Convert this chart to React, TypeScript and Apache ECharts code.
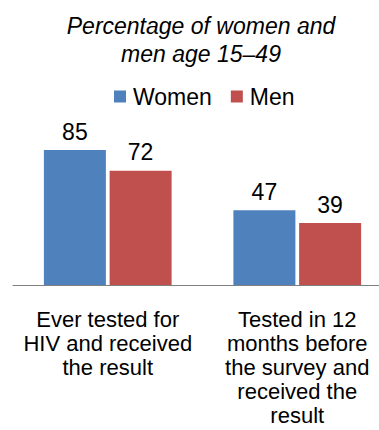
import React, { useEffect, useRef } from "react";
import * as echarts from "echarts";

const categories = [
  "Ever tested for\nHIV and received\nthe result",
  "Tested in 12\nmonths before\nthe survey and\nreceived the\nresult",
];
const women = [85, 47];
const men = [72, 39];
const titleText = "Percentage of women and\nmen age 15–49";

const FONT = "'Liberation Sans', Arial, sans-serif";

export default function App() {
  const ref = useRef<HTMLDivElement>(null);
  useEffect(() => {
    if (!ref.current) return;
    const chart = echarts.init(ref.current, undefined, { renderer: "svg" });
    chart.setOption({
      animation: false,
      textStyle: { fontFamily: FONT },
      graphic: [
        {
          type: "text",
          x: 201,
          y: 12,
          style: {
            text: titleText,
            textAlign: "center",
            textVerticalAlign: "top",
            font: `italic 23px ${FONT}`,
            lineHeight: 28,
            fill: "#000",
          },
        },
      ],
      legend: {
        left: 109,
        top: 80,
        itemWidth: 12,
        itemHeight: 12,
        itemGap: 19,
        icon: "rect",
        textStyle: { fontSize: 23, color: "#000", fontFamily: FONT, padding: [0, 0, 0, 2] },
        data: ["Women", "Men"],
        selectedMode: false,
      },
      grid: { left: 13, right: 0, top: 126.2, bottom: 145, containLabel: false },
      xAxis: {
        type: "category",
        data: categories,
        axisLine: { show: true, lineStyle: { color: "#7f7f7f", width: 1 } },
        axisTick: { show: false },
        axisLabel: {
          interval: 0,
          margin: 22,
          fontSize: 22,
          lineHeight: 24,
          color: "#000",
          fontFamily: FONT,
          align: "center",
          verticalAlign: "top",
        },
      },
      yAxis: {
        type: "value",
        min: 0,
        max: 100,
        show: false,
        splitLine: { show: false },
      },
      series: [
        {
          name: "Women",
          type: "bar",
          data: women,
          barWidth: 62,
          barGap: "6%",
          barCategoryGap: "32%",
          itemStyle: { color: "#4F81BD" },
          label: {
            show: true,
            position: "top",
            distance: 7,
            fontSize: 23,
            color: "#000",
            fontFamily: FONT,
          },
        },
        {
          name: "Men",
          type: "bar",
          data: men,
          barWidth: 62,
          itemStyle: { color: "#C0504D" },
          label: {
            show: true,
            position: "top",
            distance: 7,
            fontSize: 23,
            color: "#000",
            fontFamily: FONT,
          },
        },
      ],
    });
    return () => chart.dispose();
  }, []);
  return (
    <div
      style={{
        position: "absolute",
        left: 0,
        top: 0,
        width: 379,
        height: 430,
        overflow: "hidden",
        background: "#fff",
      }}
    >
      <div ref={ref} style={{ width: 392, height: 430 }} />
    </div>
  );
}
